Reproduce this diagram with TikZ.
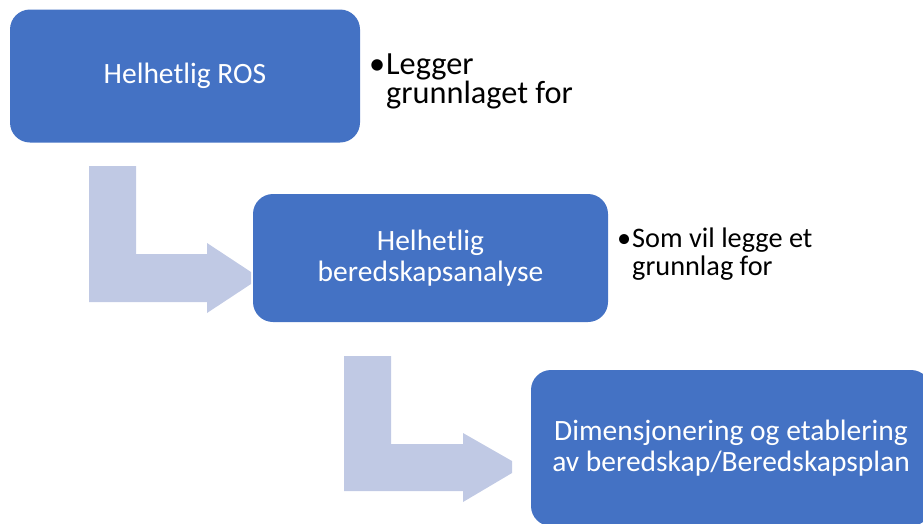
\documentclass[tikz,border=0pt]{standalone}
\usepackage{fontspec}
\setmainfont{Carlito}
\definecolor{stepblue}{RGB}{68,114,196}
\definecolor{bendarrow}{RGB}{192,201,228}
\tikzset{
  stepbox/.style={fill=stepblue, draw=none, rounded corners=20pt, inner sep=0pt,
    text=white, align=center, font=\fontsize{29.5}{31}\selectfont},
  sidenote/.style={anchor=base west, inner sep=0pt, align=left, text=black},
  bendshape/.style={fill=bendarrow, draw=none}
}
\begin{document}
\begin{tikzpicture}[x=1pt, y=-1pt]
\useasboundingbox (0,0) rectangle (923,523);
\begin{scope}
\clip (0,0) rectangle (923,523);

% bent arrows between the steps
\fill[bendshape] (89,166) -- (136,166) -- (136,254) -- (207,254) -- (207,243)
  -- (251,272) -- (251,284) -- (207,313) -- (207,302) -- (89,302) -- cycle;
\fill[bendshape] (344,356) -- (391,356) -- (391,444) -- (463,444) -- (463,433)
  -- (512,461) -- (512,473) -- (463,502) -- (463,491) -- (344,491) -- cycle;

% steps
\node[stepbox, minimum width=350pt, minimum height=133pt] (ros) at (185,76)
  {Helhetlig ROS};
\node[stepbox, minimum width=355pt, minimum height=128pt] (analyse) at (430.5,258)
  {Helhetlig\\beredskapsanalyse};
\node[stepbox, minimum width=400pt, minimum height=156pt] (plan) at (731,448)
  {Dimensjonering og etablering\\av beredskap/Beredskapsplan};

% notes beside the steps (anchored at the baseline of their last line)
\node[sidenote, font=\fontsize{32.3}{26.5}\selectfont] (note1) at (386,103.5)
  {\llap{•\hspace{1pt}}Legger\\grunnlaget for};
\node[sidenote, font=\fontsize{28.3}{28}\selectfont] (note2) at (632,275)
  {\llap{•\hspace{1pt}}Som vil legge et\\grunnlag for};
\end{scope}
\end{tikzpicture}
\end{document}
